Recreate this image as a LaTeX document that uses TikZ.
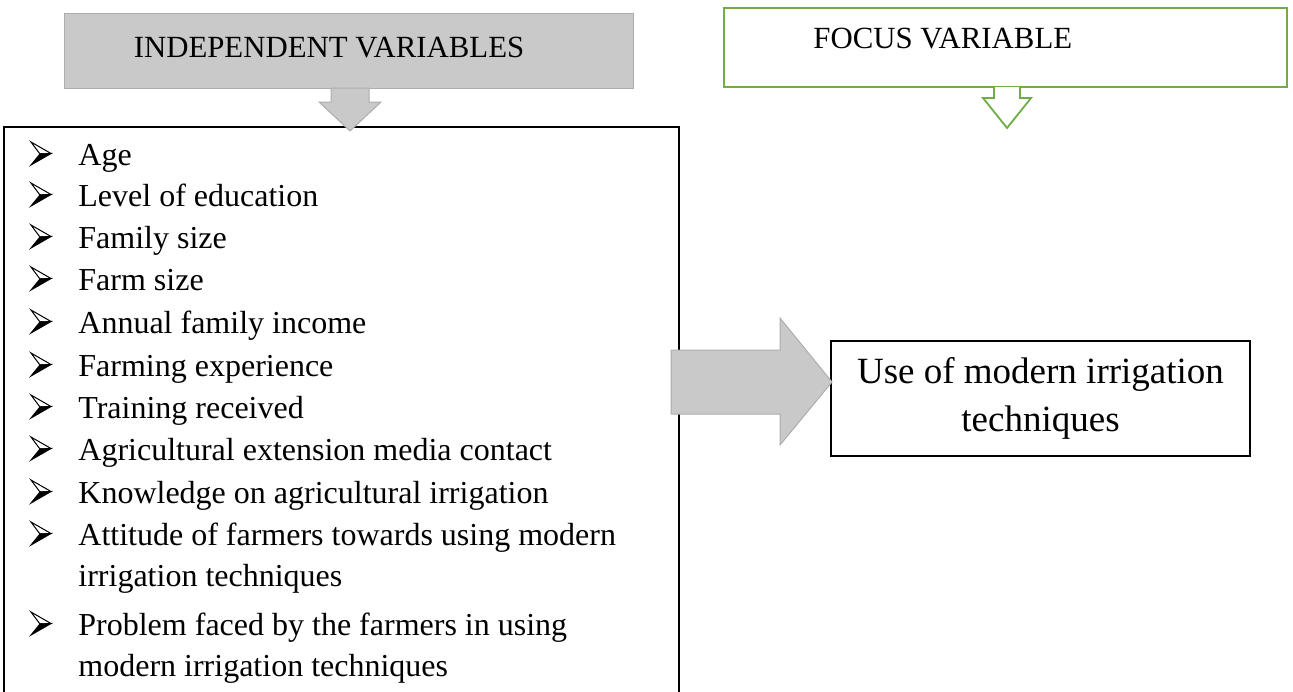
\documentclass[tikz,border=0pt]{standalone}
\usepackage{fontspec}
\setmainfont{Liberation Serif}
\usetikzlibrary{positioning}
\definecolor{boxgray}{HTML}{C9C9C9}
\definecolor{edgegray}{HTML}{ADADAD}
\definecolor{focusgreen}{HTML}{70AD47}

\begin{document}
\begin{tikzpicture}[
    x=0.5pt, y=-0.5pt,
    head/.style={font=\fontsize{15.4pt}{18pt}\selectfont, inner sep=0pt},
    item/.style={anchor=base west, inner sep=0pt,
        font=\fontsize{16pt}{21.25pt}\selectfont},
    result/.style={draw=black, line width=0.6pt, minimum width=209.5pt,
        minimum height=57.5pt, inner sep=0pt, align=center,
        font=\fontsize{18.5pt}{24pt}\selectfont},
    grayarr/.style={fill=boxgray, draw=edgegray, line width=0.5pt},
    greenarr/.style={fill=white, draw=focusgreen, line width=0.9pt},
    arrowbullet/.pic={
        \filldraw[fill=white, line width=0.5pt, line join=miter]
            (0,-23) -- (20,-11.5) -- (9,-11) -- cycle;
        \filldraw[line width=0.5pt, line join=miter]
            (9,-11) -- (20,-11.5) -- (0,0) -- cycle;
    }
]
\useasboundingbox (0,0) rectangle (1293,691);
% Boxes
\draw[grayarr] (64,13) rectangle (633,88);
\node[head, anchor=base] (indep) at (329,57) {INDEPENDENT VARIABLES};
\draw[greenarr] (724,8) rectangle (1287,87);
\node[head, anchor=base west] (focus) at (813,48) {FOCUS VARIABLE};
\draw[line width=0.6pt] (4,700) -- (4,127) -- (679,127) -- (679,700);
\node[result] (use) at (1040.5,398.5) {Use of modern irrigation\\techniques};
% Block arrows
\draw[grayarr] (331,88) -- (331,102) -- (319,102) -- (350,131)
    -- (381,102) -- (369,102) -- (369,88) -- cycle;
\draw[greenarr] (994,87) -- (994,98) -- (983,98) -- (1007,128)
    -- (1031,98) -- (1020,98) -- (1020,87);
\draw[grayarr] (671,350) -- (780,350) -- (780,318) -- (832,382)
    -- (780,445) -- (780,414) -- (671,414) -- cycle;
% List of variables (second field: wrapped line)
\foreach \yy/\txt/\more [count=\i] in {
    165/Age/,
    206/Level of education/,
    248/Family size/,
    290/Farm size/,
    333/Annual family income/,
    376/Farming experience/,
    418/Training received/,
    460/Agricultural extension media contact/,
    503/Knowledge on agricultural irrigation/,
    545/Attitude of farmers towards using modern/irrigation techniques,
    635/Problem faced by the farmers in using/modern irrigation techniques} {
    \pic (b\i) at (31,\yy) {arrowbullet};
    \node[item] (v\i) at (78,\yy) {\txt};
    \node[item] (w\i) at (78,\yy+41) {\more};
}
\end{tikzpicture}
\end{document}
